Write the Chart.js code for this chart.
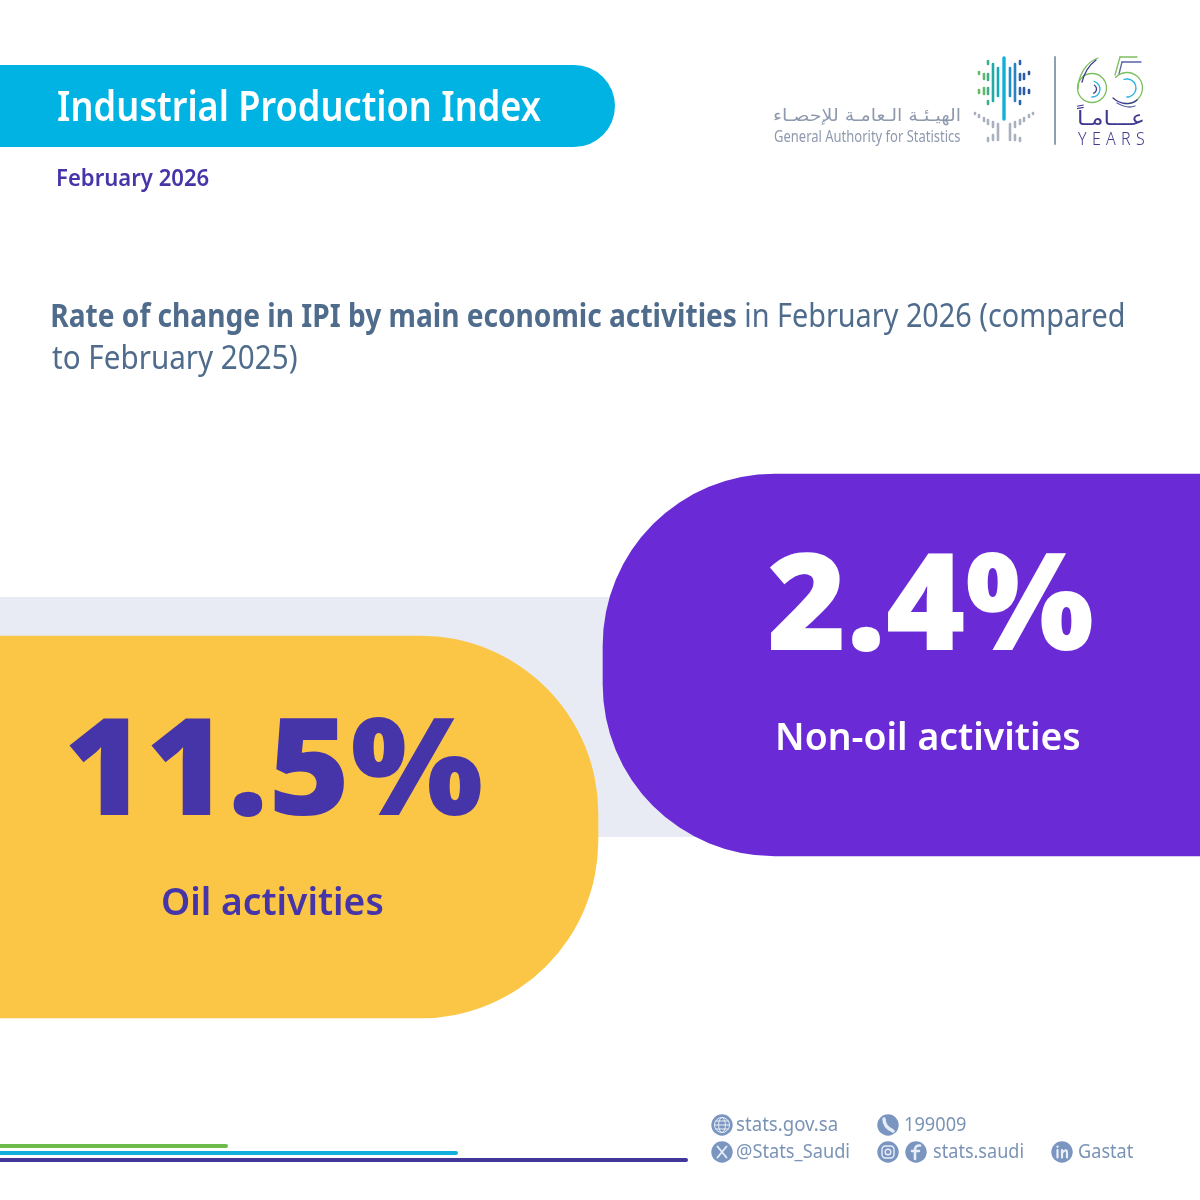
<!DOCTYPE html>
<html><head><meta charset="utf-8">
<style>html,body{margin:0;padding:0;background:#fff}canvas{display:block}</style>
<script src="https://cdn.jsdelivr.net/npm/chart.js@4"></script>
</head><body><canvas id="c" width="1200" height="1200" style="width:1200px;height:1200px"></canvas>
<script>
const categories = ["Oil activities", "Non-oil activities"];
const values = [11.5, 2.4];
const headerTitle = "Industrial Production Index";
const period = "February 2026";
const subtitleBold = "Rate of change in IPI by main economic activities";
const subtitleRest = "in February 2026 (compared";
const subtitleLine2 = "to February 2025)";

const PURPLE = "#6a2bd7", YELLOW = "#fbc646", INK = "#4535a8", CYAN = "#00b3e3",
      SLATE = "#4f6c8c", BAND = "#e8ebf3", FOOT = "#7b93b6", ICON = "#7a96c0", GREY = "#8e99ad";
const FONT = '"Noto Sans", "Open Sans", sans-serif';

function fit(ctx, s, x, base, w, size, weight, color, spacing) {
  ctx.save();
  ctx.font = `${weight} ${size}px ${FONT}`;
  if (spacing) ctx.letterSpacing = spacing + "px";
  ctx.fillStyle = color; ctx.textAlign = "left"; ctx.textBaseline = "alphabetic";
  const m = ctx.measureText(s);
  const ink = m.actualBoundingBoxRight + m.actualBoundingBoxLeft;
  const k = w / ink;
  ctx.translate(x, base); ctx.scale(k, 1);
  ctx.fillText(s, m.actualBoundingBoxLeft, 0);
  ctx.restore();
}
function rtl(ctx, s, right, base, w, size, color, weight) {
  ctx.save();
  ctx.font = `${weight || 400} ${size}px "DejaVu Sans"`;
  ctx.fillStyle = color; ctx.direction = "rtl"; ctx.textAlign = "right";
  const k = w / ctx.measureText(s).width;
  ctx.translate(right, base); ctx.scale(k, 1);
  ctx.fillText(s, 0, 0);
  ctx.restore();
}
function bar(ctx, x, y0, y1, w, color) {
  ctx.strokeStyle = color; ctx.lineWidth = w; ctx.lineCap = "round";
  ctx.beginPath(); ctx.moveTo(x, y0); ctx.lineTo(x, y1); ctx.stroke();
}
function drawLogo(ctx) {
  const C = 1004;
  const top = [
    [25, [[71, 75], [89, 94]], ["#66bb6a", "#2d4f9e"]],
    [20, [[73, 80], [87, 95]], ["#5cb86a", "#2a5aa8"]],
    [16, [[60, 65], [73, 81], [87, 95], [100, 105]], ["#3fae8a", "#2a63b0"]],
    [11, [[63, 102]], ["#20a9a5", "#2c7fc0"]],
    [6, [[67, 97]], ["#14aab8", "#1f90cc"]]
  ];
  top.forEach(([d, segs, cols]) => segs.forEach(([a, b]) => {
    bar(ctx, C - d, a + 1, b - 1, 2.6, cols[0]);
    bar(ctx, C + d, a + 1, b - 1, 2.6, cols[1]);
  }));
  bar(ctx, C, 58, 119, 3.4, "#12b0d8");
  const low = [
    [29, [[112, 115]]], [25, [[114, 118]]], [20, [[117, 122]]],
    [16, [[119, 125], [137, 142]]], [11, [[121, 128], [134, 141]]], [6, [[123, 141]]]
  ];
  low.forEach(([d, segs]) => segs.forEach(([a, b]) => {
    bar(ctx, C - d, a + 1, b - 1, 2.6, "#a9b1c0");
    bar(ctx, C + d, a + 1, b - 1, 2.6, "#a9b1c0");
  }));
  bar(ctx, 1055, 57, 144, 2, "#8e9fb2");

  ctx.save(); ctx.lineCap = "round"; ctx.lineWidth = 1.3;
  const arc = (x, y, r, a, b, col) => { ctx.strokeStyle = col; ctx.beginPath(); ctx.arc(x, y, r, a, b); ctx.stroke(); };
  const pth = (d, col) => { ctx.strokeStyle = col; ctx.stroke(new Path2D(d)); };
  arc(1092, 88, 14.5, 0, Math.PI * 2, "#7cc05e");
  arc(1092, 89, 8, -1.3, 1.6, "#2cb4dc");
  arc(1092, 89, 4.5, -1, 1.2, "#3d3a8f");
  pth("M1098 58 C1086 62 1078 76 1078 89", "#7cc05e");
  pth("M1096 60 C1088 66 1084 74 1082 82", "#3d3a8f");
  pth("M1120 57 H1137", "#7cc05e");
  pth("M1122 62 H1141", "#5a64a8");
  pth("M1120 57 L1115 75", "#7cc05e");
  pth("M1122 62 L1119 74", "#5a64a8");
  arc(1127, 88, 15.5, -2.4, 1.7, "#7cc05e");
  arc(1127, 88, 9, -1.9, 1.6, "#2cb4dc");
  pth("M1113 98 C1120 104 1130 106 1137 100", "#3d3a8f");
  pth("M1117 103 C1124 107 1130 108 1135 106", "#5a64a8");
  ctx.restore();
}
function drawIcons(ctx) {
  const pts = [[722, 1125], [888, 1125], [722, 1152], [888, 1152], [916, 1152], [1062, 1152]];
  pts.forEach(([x, y]) => { ctx.fillStyle = ICON; ctx.beginPath(); ctx.arc(x, y, 10.7, 0, Math.PI * 2); ctx.fill(); });
  ctx.save(); ctx.strokeStyle = "#e8eef7"; ctx.lineWidth = 1; ctx.lineCap = "round";
  ctx.beginPath(); ctx.arc(722, 1125, 7.5, 0, 7); ctx.stroke();
  ctx.beginPath(); ctx.ellipse(722, 1125, 3.4, 7.5, 0, 0, 7); ctx.stroke();
  ctx.beginPath(); ctx.moveTo(714.5, 1125); ctx.lineTo(729.5, 1125); ctx.moveTo(716, 1121); ctx.lineTo(728, 1121); ctx.moveTo(716, 1129); ctx.lineTo(728, 1129); ctx.stroke();
  ctx.lineWidth = 3.4; ctx.beginPath(); ctx.moveTo(884, 1119); ctx.quadraticCurveTo(884, 1127, 893, 1131); ctx.stroke();
  ctx.lineWidth = 1.8; ctx.beginPath(); ctx.moveTo(717.5, 1146.5); ctx.lineTo(726.5, 1157.5); ctx.moveTo(726.5, 1146.5); ctx.lineTo(717.5, 1157.5); ctx.stroke();
  ctx.lineWidth = 1.4; ctx.beginPath(); ctx.roundRect(882, 1146, 12, 12, 3.5); ctx.stroke();
  ctx.beginPath(); ctx.arc(888, 1152, 2.8, 0, 7); ctx.stroke();
  ctx.lineWidth = 2.6; ctx.beginPath(); ctx.moveTo(920, 1145.5); ctx.quadraticCurveTo(915, 1145, 915, 1150); ctx.lineTo(915, 1159); ctx.moveTo(912, 1151); ctx.lineTo(919, 1151); ctx.stroke();
  ctx.lineWidth = 2.2; ctx.beginPath(); ctx.moveTo(1057.5, 1150); ctx.lineTo(1057.5, 1157.5); ctx.moveTo(1057.5, 1146.6); ctx.lineTo(1057.5, 1146.8);
  ctx.moveTo(1062, 1157.5); ctx.lineTo(1062, 1150); ctx.moveTo(1062, 1153); ctx.quadraticCurveTo(1067, 1147.5, 1067, 1153); ctx.lineTo(1067, 1157.5); ctx.stroke();
  ctx.restore();
}

const page = {
  id: "page",
  beforeDatasetsDraw(chart) {
    const ctx = chart.ctx;
    ctx.save();
    ctx.fillStyle = "#fff"; ctx.fillRect(0, 0, 1200, 1200);
    ctx.fillStyle = BAND; ctx.fillRect(0, 597, 700, 240);
    ctx.fillStyle = CYAN; ctx.beginPath(); ctx.roundRect(-60, 65, 675, 82, 41); ctx.fill();
    [[1146, 228, "#6dbb4c"], [1153, 458, "#12afdc"], [1160, 688, "#43389a"]].forEach(([y, x, col]) => {
      ctx.strokeStyle = col; ctx.lineWidth = 4; ctx.lineCap = "round";
      ctx.beginPath(); ctx.moveTo(-5, y); ctx.lineTo(x - 2, y); ctx.stroke();
    });
    ctx.restore();
  },
  afterDatasetsDraw(chart) {
    const ctx = chart.ctx;
    fit(ctx, headerTitle, 58, 121, 483, 41, 600, "#fff");
    fit(ctx, period, 58, 186, 151, 23, 600, INK);
    fit(ctx, subtitleBold, 52, 327, 684, 32, 700, SLATE);
    fit(ctx, subtitleRest, 746, 327, 377, 32, 400, SLATE);
    fit(ctx, subtitleLine2, 52, 369, 245, 32, 400, SLATE);

    fit(ctx, values[0].toFixed(1) + "%", 69, 815, 412, 134, 900, INK);
    fit(ctx, values[1].toFixed(1) + "%", 769, 650, 323, 134, 900, "#fff");
    fit(ctx, categories[0], 163, 915, 220, 38, 600, INK);
    fit(ctx, categories[1], 778, 750, 302, 38, 600, "#fff");

    rtl(ctx, "الهيـئـة الـعامـة للإحصـاء", 961, 121, 188, 17, GREY);
    fit(ctx, "General Authority for Statistics", 774, 142, 186, 16, 400, GREY);
    drawLogo(ctx);
    rtl(ctx, "عـــامـاً", 1145, 125, 68, 20, "#3f3a8f");
    fit(ctx, "YEARS", 1078, 145, 66, 18, 300, "#3f3a8f", 6);

    drawIcons(ctx);
    [["stats.gov.sa", 737, 1131, 100], ["199009", 905, 1131, 61],
     ["@Stats_Saudi", 737, 1158, 112], ["stats.saudi", 934, 1158, 89], ["Gastat", 1079, 1158, 54]]
      .forEach(([s, x, y, w]) => fit(ctx, s, x, y, w, 20, 400, FOOT));
  }
};

new Chart(document.getElementById("c"), {
  type: "bar",
  plugins: [page],
  data: {
    labels: categories,
    datasets: [
      { label: categories[0], data: [values[0], null], xAxisID: "xOil", yAxisID: "y",
        backgroundColor: YELLOW, clip: false,
        borderRadius: { topRight: 178, bottomRight: 178, topLeft: 0, bottomLeft: 0 } },
      { label: categories[1], data: [null, values[1]], xAxisID: "xNon", yAxisID: "y",
        backgroundColor: PURPLE, clip: false,
        borderRadius: { topLeft: 172, bottomLeft: 172, topRight: 0, bottomRight: 0 } }
    ]
  },
  options: {
    indexAxis: "y",
    responsive: false,
    animation: false,
    devicePixelRatio: 1,
    grouped: false,
    barThickness: 382,
    layout: { padding: { top: 584, bottom: 292, left: 0, right: 0 } },
    plugins: { legend: { display: false }, tooltip: { enabled: false }, title: { display: false } },
    scales: {
      y: { type: "category", reverse: true, display: false, grid: { display: false } },
      xOil: { axis: "x", type: "linear", display: false, min: 0, max: values[0] * 1200 / 598 },
      xNon: { axis: "x", type: "linear", display: false, reverse: true, min: 0, max: values[1] * 1200 / 597 }
    }
  }
});
</script></body></html>
